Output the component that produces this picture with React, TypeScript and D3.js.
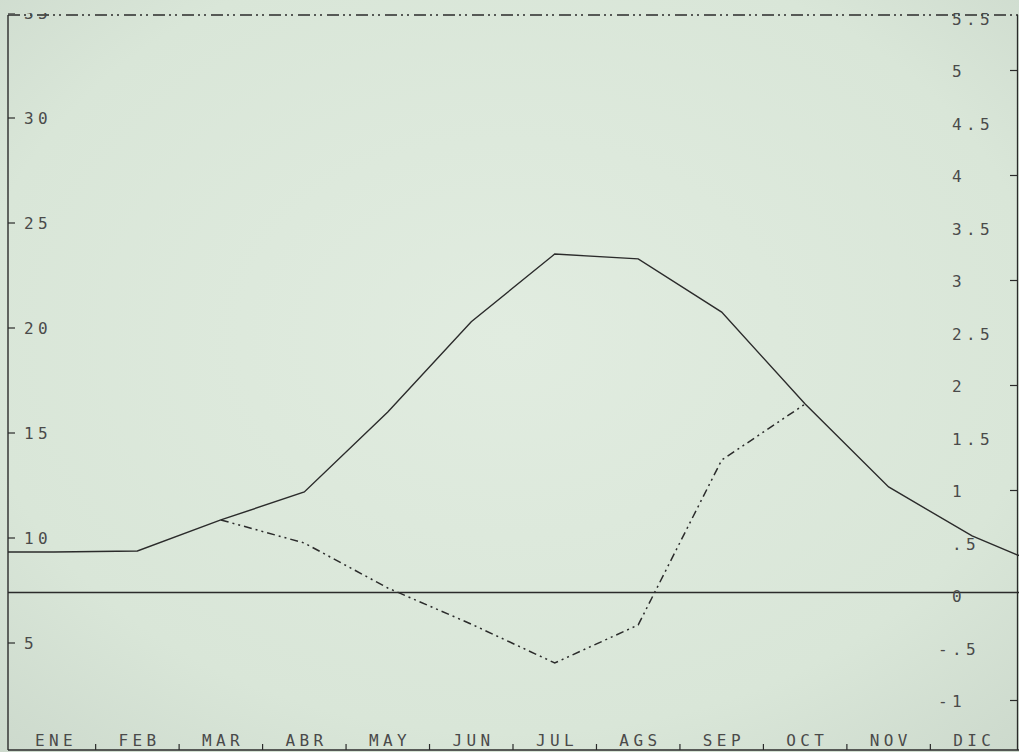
import React from "react";
import * as d3 from "d3";

// ---- data ----
const months = ["ENE", "FEB", "MAR", "ABR", "MAY", "JUN", "JUL", "AGS", "SEP", "OCT", "NOV", "DIC"];
// solid series (left axis), with the value before ENE and after DIC that the plot runs into
const solidBefore = 9.33;
const solidValues = [9.33, 9.38, 10.86, 12.19, 16.0, 20.3, 23.52, 23.29, 20.76, 16.38, 12.43, 10.1];
const solidAfter = 8.43;
// dash-dot series (left axis), only drawn where it leaves the solid line
const dashValues: (number | null)[] = [null, null, 10.86, 9.76, 7.62, 5.9, 4.05, 5.86, 13.71, 16.38, null, null];
const leftTicks = [5, 10, 15, 20, 25, 30, 35];
const rightLabels = [-1, -0.5, 0, 0.5, 1, 1.5, 2, 2.5, 3, 3.5, 4, 4.5, 5, 5.5];
const rightTicks = [-1, 1, 2, 3, 4, 5];

const W = 1019;
const H = 752;
const FONT = "'DejaVu Sans Mono', 'Liberation Mono', monospace";

export default function App() {
  const left = 8;
  const right = 1017;
  const top = 15;
  const bottom = 750;

  const x = d3.scaleLinear().domain([-0.55, 11.55]).range([left, right + 1]);
  const yL = d3.scaleLinear().domain([0, 35]).range([748, 13]);
  const yR = d3.scaleLinear().domain([-1, 5]).range([700.5, 70.5]);

  const solidPts: [number, number][] = [
    [-1, solidBefore],
    ...solidValues.map((v, i) => [i, v] as [number, number]),
    [12, solidAfter],
  ];
  const lineSolid = d3
    .line<[number, number]>()
    .x((d) => x(d[0]))
    .y((d) => yL(d[1]));
  const lineDash = d3
    .line<number | null>()
    .defined((d) => d !== null)
    .x((_, i) => x(i))
    .y((d) => yL(d as number));

  const fmtR = (v: number) => {
    const s = d3.format("")(Math.abs(v)).replace(/^0\./, ".");
    return s;
  };
  const charAdv = 14;
  const ink = "#2b2b2b";
  const textInk = "#4a4a4a";

  return (
    <svg
      width={W}
      height={H}
      style={{ position: "absolute", left: 0, top: 0, display: "block" }}
      xmlns="http://www.w3.org/2000/svg"
    >
      <defs>
        <radialGradient id="paper" cx="50%" cy="45%" r="75%">
          <stop offset="0%" stopColor="#e1ece0" />
          <stop offset="70%" stopColor="#d9e6d8" />
          <stop offset="100%" stopColor="#ccd9cc" />
        </radialGradient>
        <clipPath id="plot">
          <rect x={left} y={top} width={W - left} height={bottom - top} />
        </clipPath>
        <clipPath id="textClip">
          <rect x={0} y={13} width={W} height={H - 13} />
        </clipPath>
      </defs>
      <rect x={0} y={0} width={W} height={H} fill="url(#paper)" />

      {/* frame */}
      <line x1={left} x2={W} y1={top} y2={top} stroke={ink} strokeWidth={1.3}
        strokeDasharray="12,4,2,4,2,5" />
      <line x1={left} x2={left} y1={top} y2={bottom} stroke={ink} strokeWidth={1.4} />
      <line x1={left} x2={W} y1={bottom} y2={bottom} stroke={ink} strokeWidth={1.4} />
      <line x1={right + 0.5} x2={right + 0.5} y1={top} y2={bottom} stroke={ink} strokeWidth={1.3} />

      {/* zero line of right axis */}
      <line x1={left} x2={W} y1={yR(0) - 3} y2={yR(0) - 3} stroke={ink} strokeWidth={1.4} />

      {/* left ticks + labels */}
      <g clipPath="url(#textClip)">
        {leftTicks.map((v) => (
          <g key={"l" + v}>
            <line x1={left} x2={left + 7} y1={yL(v)} y2={yL(v)} stroke={ink} strokeWidth={1.2} />
            <text x={24} y={yL(v)} dy="0.36em" fontFamily={FONT} fontSize={16}
              letterSpacing={4.4} fill={textInk}>{v}</text>
          </g>
        ))}
        {rightLabels.map((v) => (
          <text key={"r" + v} x={v < 0 ? 952 - charAdv : 952} y={yR(v)} dy="0.42em"
            fontFamily={FONT} fontSize={16} letterSpacing={4.4} fill={textInk}>
            {(v < 0 ? "-" : "") + fmtR(v)}
          </text>
        ))}
      </g>
      {rightTicks.map((v) => (
        <line key={"rt" + v} x1={right - 7} x2={right} y1={yR(v)} y2={yR(v)} stroke={ink} strokeWidth={1.2} />
      ))}

      {/* month labels and ticks */}
      {months.map((m, i) => (
        <text key={m} x={x(i)} y={746} textAnchor="middle" fontFamily={FONT} fontSize={16}
          letterSpacing={4.4} fill={textInk} dx={2.2}>{m}</text>
      ))}
      {d3.range(11).map((i) => (
        <line key={"bt" + i} x1={x(i + 0.5)} x2={x(i + 0.5)} y1={bottom} y2={bottom - 6}
          stroke={ink} strokeWidth={1.2} />
      ))}

      {/* series */}
      <g clipPath="url(#plot)">
        <path d={lineSolid(solidPts) || ""} fill="none" stroke={ink} strokeWidth={1.4} />
        <path d={lineDash(dashValues) || ""} fill="none" stroke={ink} strokeWidth={1.5}
          strokeDasharray="8,4,2,4,2,4" />
      </g>
    </svg>
  );
}
